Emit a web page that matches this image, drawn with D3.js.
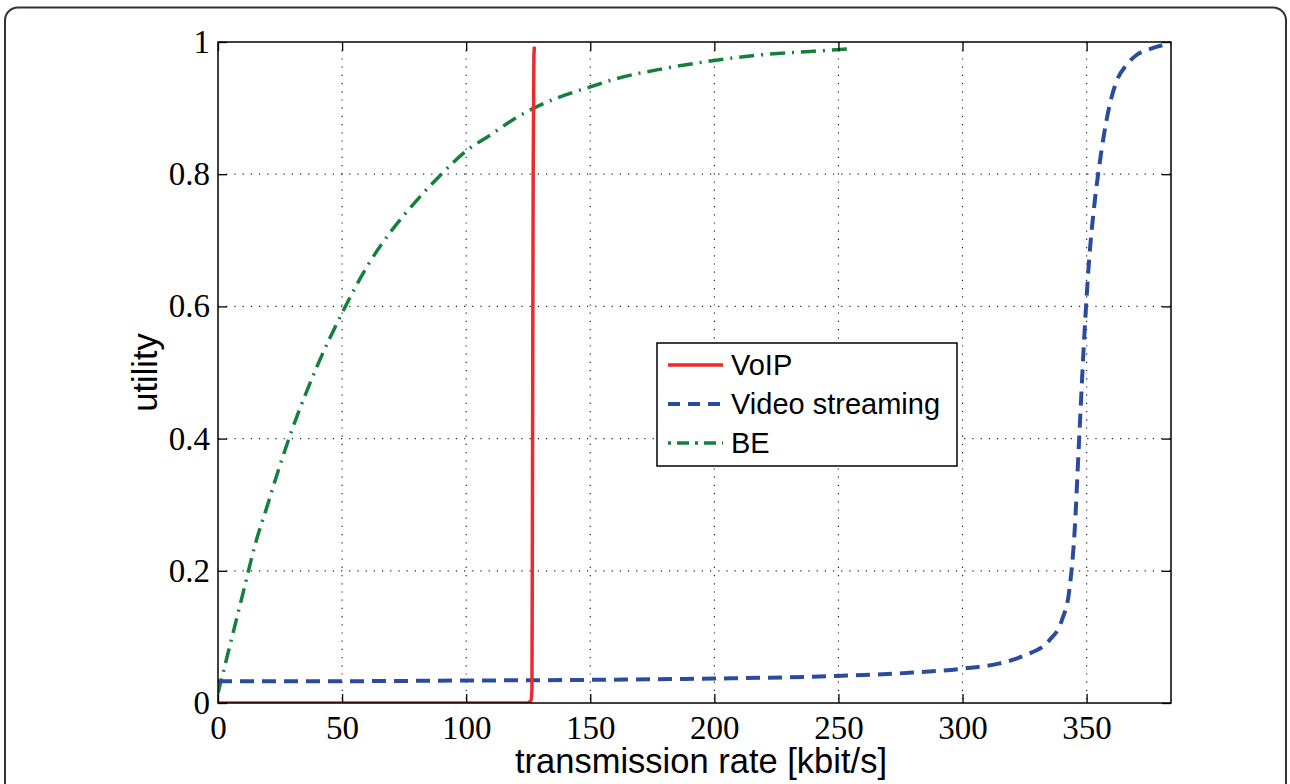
<!DOCTYPE html>
<html>
<head>
<meta charset="utf-8">
<script src="https://cdn.jsdelivr.net/npm/d3@7"></script>
<style>
  body { margin: 0; background: #fff; }
  svg { display: block; }
</style>
</head>
<body>
<div id="figure"><svg width="1290" height="784"></svg></div>
<script>
// values
var xTicks = [0, 50, 100, 150, 200, 250, 300, 350];
var yTicks = [0, 0.2, 0.4, 0.6, 0.8, 1];
var seriesNames = ["VoIP", "Video streaming", "BE"];

var voipRate = [0, 60, 120, 124.5, 126, 126.5, 126.7, 127, 127.3, 127.5];
var voipUtil = [0, 0, 0, 0, 0.003, 0.02, 0.3, 0.8, 0.98, 0.993];

var videoRate = [0, 50, 100, 150, 200, 250, 280, 300, 315, 325, 335, 340, 343, 345, 347, 349, 351, 353, 355, 357, 359, 362, 366, 370, 376, 384];
var videoUtil = [0.033, 0.033, 0.034, 0.035, 0.037, 0.041, 0.046, 0.052, 0.06, 0.072, 0.095, 0.125, 0.17, 0.25, 0.4, 0.55, 0.67, 0.75, 0.81, 0.86, 0.9, 0.94, 0.965, 0.98, 0.99, 0.998];

var beRate = [0, 5, 10, 15, 20, 25, 30, 40, 50, 60, 70, 80, 90, 100, 110, 120, 130, 140, 150, 160, 180, 200, 220, 240, 256];
var beUtil = [0.015, 0.09, 0.165, 0.24, 0.30, 0.36, 0.415, 0.51, 0.59, 0.66, 0.715, 0.76, 0.80, 0.835, 0.86, 0.885, 0.905, 0.92, 0.932, 0.944, 0.96, 0.972, 0.981, 0.986, 0.99];

var colors = ["#ec2a2e", "#2a4c9f", "#15803d"];
var dashes = [null, "14,8", "15,7,2,7"];
var widths = [3.5, 4, 3.5];

var figure = d3.select("div#figure svg");
var plotLeft = 218, plotTop = 42, plotRight = 1171, plotBottom = 703;

var x = d3.scaleLinear().domain([0, 384]).range([plotLeft, plotRight]);
var y = d3.scaleLinear().domain([0, 1]).range([plotBottom, plotTop]);

// rounded outer frame (runs off the bottom of the picture)
figure.append("rect")
    .attr("x", 5).attr("y", 7.5)
    .attr("width", 1281).attr("height", 800)
    .attr("rx", 13).attr("ry", 13)
    .style("fill", "none")
    .style("stroke", "#333")
    .style("stroke-width", 2);

// dotted grid
var grid = figure.append("g").attr("id", "grid");
grid.selectAll("line.vx")
    .data(xTicks.slice(1))
    .enter().append("line")
    .attr("x1", function(d) { return x(d); })
    .attr("x2", function(d) { return x(d); })
    .attr("y1", plotTop).attr("y2", plotBottom);
grid.selectAll("line.hy")
    .data(yTicks.slice(1, -1))
    .enter().append("line")
    .attr("x1", plotLeft).attr("x2", plotRight)
    .attr("y1", function(d) { return y(d); })
    .attr("y2", function(d) { return y(d); });
grid.selectAll("line")
    .style("stroke", "#222")
    .style("stroke-width", 1.2)
    .style("stroke-dasharray", "1.2,7");

// curves
var line = d3.line()
    .x(function(d) { return x(d[0]); })
    .y(function(d) { return y(d[1]); })
    .curve(d3.curveMonotoneX);

var series = [
  d3.zip(voipRate, voipUtil),
  d3.zip(videoRate, videoUtil),
  d3.zip(beRate, beUtil)
];

figure.append("clipPath").attr("id", "plotclip")
    .append("rect")
    .attr("x", plotLeft).attr("y", plotTop - 3)
    .attr("width", plotRight - plotLeft + 2).attr("height", plotBottom - plotTop + 3);

var curves = figure.append("g").attr("id", "curves")
    .attr("clip-path", "url(#plotclip)");
[2, 1, 0].forEach(function(i) {
  curves.append("path")
      .attr("d", line(series[i]))
      .style("fill", "none")
      .style("stroke", colors[i])
      .style("stroke-width", widths[i])
      .style("stroke-dasharray", dashes[i]);
});

// axes, matlab style: ticks inside on all four sides
var axisFont = "'Liberation Serif', 'Times New Roman', serif";
var labelFont = "'Liberation Sans', Arial, Helvetica, sans-serif";

var xAxis = figure.append("g")
    .attr("transform", "translate(0," + plotBottom + ")")
    .call(d3.axisBottom(x).tickValues(xTicks).tickSize(-9).tickPadding(13)
          .tickFormat(function(d) { return d; }));
var yAxis = figure.append("g")
    .attr("transform", "translate(" + plotLeft + ",0)")
    .call(d3.axisLeft(y).tickValues(yTicks).tickSize(-9).tickPadding(8)
          .tickFormat(function(d) { return d; }));
var topAxis = figure.append("g")
    .attr("transform", "translate(0," + plotTop + ")")
    .call(d3.axisTop(x).tickValues(xTicks).tickSize(-9).tickFormat(""));
var rightAxis = figure.append("g")
    .attr("transform", "translate(" + plotRight + ",0)")
    .call(d3.axisRight(y).tickValues(yTicks).tickSize(-9).tickFormat(""));

[xAxis, yAxis, topAxis, rightAxis].forEach(function(a) {
  a.select(".domain").remove();
  a.selectAll(".tick line").style("stroke", "#000").style("stroke-width", 1.3);
  a.selectAll("text")
      .style("font-family", axisFont)
      .style("font-size", "33px")
      .style("fill", "#000");
});

figure.append("rect")
    .attr("x", plotLeft).attr("y", plotTop)
    .attr("width", plotRight - plotLeft).attr("height", plotBottom - plotTop)
    .style("fill", "none")
    .style("stroke", "#000")
    .style("stroke-width", 1.5);

// axis labels
figure.append("text")
    .attr("x", 701)
    .attr("y", 773)
    .attr("text-anchor", "middle")
    .style("font-family", labelFont)
    .style("font-size", "34.5px")
    .text("transmission rate [kbit/s]");

figure.append("text")
    .attr("transform", "translate(157," + ((plotTop + plotBottom) / 2) + ") rotate(-90)")
    .attr("text-anchor", "middle")
    .style("font-family", labelFont)
    .style("font-size", "34.5px")
    .text("utility");

// legend
var legend = figure.append("g").attr("id", "legend");
legend.append("rect")
    .attr("x", 657).attr("y", 343)
    .attr("width", 300).attr("height", 123)
    .style("fill", "#fff")
    .style("stroke", "#000")
    .style("stroke-width", 1.5);

var rows = legend.selectAll("g.row")
    .data(seriesNames)
    .enter().append("g")
    .attr("class", "row")
    .attr("transform", function(d, i) { return "translate(0," + (365 + i * 39) + ")"; });

rows.append("line")
    .attr("x1", 668).attr("x2", 723)
    .attr("y1", 0).attr("y2", 0)
    .style("stroke", function(d, i) { return colors[i]; })
    .style("stroke-width", function(d, i) { return widths[i]; })
    .style("stroke-dasharray", function(d, i) { return i === 2 ? "3,6,12,6" : (i === 1 ? "12,8" : null); });

rows.append("text")
    .attr("x", 731)
    .attr("y", 10)
    .style("font-family", labelFont)
    .style("font-size", "29px")
    .text(function(d) { return d; });
</script>
</body>
</html>
